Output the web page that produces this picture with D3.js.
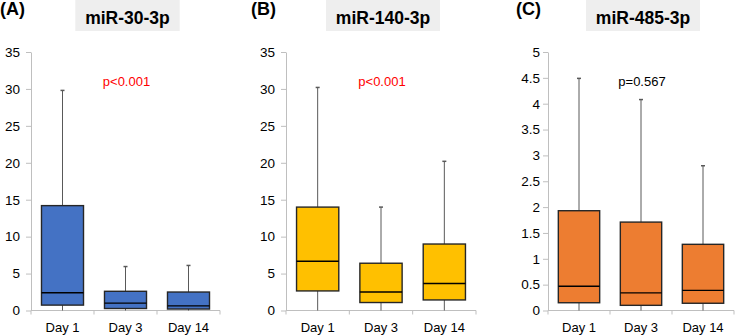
<!DOCTYPE html>
<html>
<head>
<meta charset="UTF-8">
<script src="https://d3js.org/d3.v7.min.js"></script>
<style>
  body { margin: 0; background: #fff; }
  svg { font-family: "Liberation Sans", Arial, sans-serif; }
  .axis path, .axis line { stroke: #bfbfbf; }
  .axis text { fill: #000; }
</style>
</head>
<body>
<svg id="chart" width="735" height="335"></svg>
<script>
// categories and labels
var days = ["Day 1", "Day 3", "Day 14"];
var panelTags = ["(A)", "(B)", "(C)"];
var genes = ["miR-30-3p", "miR-140-3p", "miR-485-3p"];
var pValues = ["p<0.001", "p<0.001", "p=0.567"];
var pColors = ["#ff0000", "#ff0000", "#000000"];
var boxColors = ["#4472c4", "#ffc000", "#ed7d31"];

// y ticks for each panel
var ticksA = [0, 5, 10, 15, 20, 25, 30, 35];
var ticksB = [0, 5, 10, 15, 20, 25, 30, 35];
var ticksC = [0, 0.5, 1, 1.5, 2, 2.5, 3, 3.5, 4, 4.5, 5];

// box stats per day: [min, q1, median, q3, max]
var mir30 = [[0, 0.73, 2.4, 14.2, 29.8], [0, 0.27, 1.0, 2.6, 5.95], [0, 0.2, 0.63, 2.5, 6.1]];
var mir140 = [[0, 2.65, 6.67, 14.0, 30.2], [0, 1.08, 2.5, 6.4, 14.0], [0, 1.43, 3.65, 9.0, 20.2]];
var mir485 = [[0, 0.15, 0.47, 1.93, 4.49], [0, 0.10, 0.34, 1.71, 4.08], [0, 0.14, 0.39, 1.28, 2.80]];

var series = [mir30, mir140, mir485];
var tickSets = [ticksA, ticksB, ticksC];

// panel placement (plot area left/right)
var panels = [
    { left: 31, right: 220, tagX: 0, pad: 6 },
    { left: 286, right: 476, tagX: 251, pad: 6 },
    { left: 548, right: 734, tagX: 516, pad: 3 }
];
var plotTop = 52, plotBottom = 310.5;

var svg = d3.select("#chart");

panels.forEach(function(p, i) {
    var ticks = tickSets[i];
    var x = d3.scaleBand().domain(days).range([p.left, p.right]).padding(0);
    var y = d3.scaleLinear().domain([0, d3.max(ticks)]).range([plotBottom, plotTop]);
    var g = svg.append("g");
    var mid = (p.left + p.right) / 2;

    // panel tag
    g.append("text")
        .attr("x", p.tagX).attr("y", 14.5)
        .attr("font-size", "18px").attr("font-weight", "bold")
        .text(panelTags[i]);

    // title box
    var tw = genes[i].length * 9.6 + 18;
    g.append("rect")
        .attr("x", mid + 2 - tw / 2).attr("y", 0)
        .attr("width", tw).attr("height", 31)
        .attr("fill", "#eeeeee");
    g.append("text")
        .attr("x", mid + 2).attr("y", 23.5)
        .attr("text-anchor", "middle")
        .attr("font-size", "17.5px").attr("font-weight", "bold")
        .text(genes[i]);

    // axes
    g.append("g")
        .attr("class", "axis")
        .attr("transform", "translate(" + p.left + ",0)")
        .call(d3.axisLeft(y).tickValues(ticks).tickFormat(function(d) { return String(d); })
            .tickSize(5).tickSizeOuter(0).tickPadding(p.pad))
        .call(function(a) { a.selectAll("text").attr("font-size", "13.5px"); });

    var xa = g.append("g")
        .attr("class", "axis")
        .attr("transform", "translate(0," + plotBottom + ")")
        .call(d3.axisBottom(x).tickSize(0).tickPadding(12));
    xa.selectAll("text").attr("font-size", "13px");
    xa.select(".domain").attr("d", "M" + p.left + ",0H" + p.right);
    // category boundary ticks
    xa.selectAll(".sep")
        .data(days.concat(["end"]))
        .enter().append("line")
        .attr("x1", function(d, k) { return p.left + k * x.bandwidth(); })
        .attr("x2", function(d, k) { return p.left + k * x.bandwidth(); })
        .attr("y1", 0).attr("y2", 4)
        .attr("stroke", "#bfbfbf");

    // p value
    g.append("text")
        .attr("x", mid + 1).attr("y", 86)
        .attr("text-anchor", "middle")
        .attr("font-size", "13px")
        .attr("fill", pColors[i])
        .text(pValues[i]);

    // boxes
    var bw = x.bandwidth() * 0.667;
    var box = g.selectAll(".bx")
        .data(series[i])
        .enter().append("g")
        .attr("transform", function(d, k) { return "translate(" + (x(days[k]) + x.bandwidth() / 2) + ",0)"; });

    box.append("line")
        .attr("x1", 0).attr("x2", 0)
        .attr("y1", function(d) { return y(d[4]); })
        .attr("y2", function(d) { return y(d[3]); })
        .attr("stroke", "#595959");
    box.append("line")
        .attr("x1", 0).attr("x2", 0)
        .attr("y1", function(d) { return y(d[1]); })
        .attr("y2", function(d) { return y(d[0]); })
        .attr("stroke", "#595959");
    box.append("line")
        .attr("x1", -2).attr("x2", 2)
        .attr("y1", function(d) { return y(d[4]); })
        .attr("y2", function(d) { return y(d[4]); })
        .attr("stroke", "#595959").attr("stroke-width", 1.5);
    box.append("rect")
        .attr("x", -bw / 2).attr("width", bw)
        .attr("y", function(d) { return y(d[3]); })
        .attr("height", function(d) { return y(d[1]) - y(d[3]); })
        .attr("fill", boxColors[i])
        .attr("stroke", "#262626").attr("stroke-width", 1.4);
    box.append("line")
        .attr("x1", -bw / 2).attr("x2", bw / 2)
        .attr("y1", function(d) { return y(d[2]); })
        .attr("y2", function(d) { return y(d[2]); })
        .attr("stroke", "#000").attr("stroke-width", 1.4);
});
</script>
</body>
</html>
